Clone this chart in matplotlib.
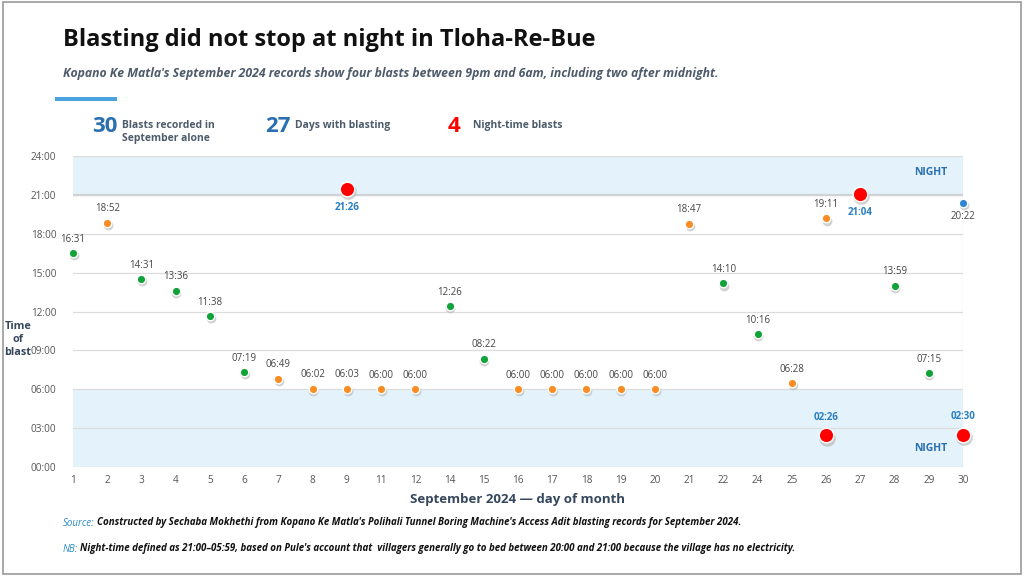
import matplotlib
matplotlib.use("Agg")
from matplotlib import pyplot as plt
from matplotlib.patches import Rectangle
from matplotlib import transforms

plt.rcParams["font.family"] = ["Open Sans", "DejaVu Sans"]

# days with blasting (x categories)
days = [1, 2, 3, 4, 5, 6, 7, 8, 9, 11, 12, 14, 15, 16, 17, 18, 19, 20,
        21, 22, 24, 25, 26, 27, 28, 29, 30]

# each blast: day, time, kind
blast_days = [1, 2, 3, 4, 5, 6, 7, 8, 9, 9, 11, 12, 14, 15, 16, 17, 18, 19,
              20, 21, 22, 24, 25, 26, 26, 27, 28, 29, 30, 30]
blast_times = ["16:31", "18:52", "14:31", "13:36", "11:38", "07:19", "06:49",
               "06:02", "06:03", "21:26", "06:00", "06:00", "12:26", "08:22",
               "06:00", "06:00", "06:00", "06:00", "06:00", "18:47", "14:10",
               "10:16", "06:28", "19:11", "02:26", "21:04", "13:59", "07:15",
               "20:22", "02:30"]
blast_kind = ["day", "edge", "day", "day", "day", "day", "edge", "edge", "edge",
              "night", "edge", "edge", "day", "day", "edge", "edge", "edge",
              "edge", "edge", "edge", "day", "day", "edge", "edge", "night",
              "night", "day", "day", "dusk", "night"]

stats_values = ["30", "27", "4"]
stats_labels = ["Blasts recorded in\nSeptember alone", "Days with blasting",
                "Night-time blasts"]

KIND_COLOR = {"day": "#12a23a", "edge": "#f98d25", "dusk": "#2f86d2",
              "night": "#ff0000"}
SLATE = "#34475c"
BLUE = "#2a6fb0"


def to_hours(t):
    h, m = t.split(":")
    return int(h) + int(m) / 60


fig = plt.figure(figsize=(10.24, 5.76), dpi=100)
fig.patch.set_facecolor("white")
fig.add_artist(Rectangle((0.003, 0.003), 0.994, 0.994, transform=fig.transFigure,
                         fill=False, edgecolor="#9a9a9a", lw=1.2))

ax = fig.add_axes([73 / 1024, 1 - 467 / 576, 890 / 1024, 311 / 576])
ax.set_xlim(0, len(days) - 1)
ax.set_ylim(0, 24)

# night bands
ax.axhspan(21, 24, color="#e4f2fc", zorder=0, lw=0)
ax.axhspan(0, 6, color="#e4f2fc", zorder=0, lw=0)
for y in range(0, 25, 3):
    ax.axhline(y, color="#dcdcdc", lw=0.9, zorder=1)
ax.axhline(21, color="#cfd3d6", lw=1.6, zorder=1)
ax.axvline(len(days) - 1, color="#dcdcdc", lw=0.9, zorder=1)

for s in ax.spines.values():
    s.set_visible(False)

ax.set_yticks(range(0, 25, 3))
ax.set_yticklabels([f"{h:02d}:00" for h in range(0, 25, 3)])
ax.set_xticks(range(len(days)))
ax.set_xticklabels([str(d) for d in days])
ax.tick_params(length=0, labelsize=7.2, colors="#555555")
ax.tick_params(axis="y", pad=12)
ax.tick_params(axis="x", pad=6)

ax.set_xlabel("September 2024 \u2014 day of month", fontsize=9.5, fontweight="bold",
              color=SLATE, labelpad=5)
ax.text(-55 / 890, 0.41, "Time\nof\nblast", transform=ax.transAxes, ha="center",
        va="center", fontsize=7.8, fontweight="bold", color=SLATE, linespacing=1.25)

shadow = transforms.offset_copy(ax.transData, fig=fig, x=0.5, y=-1.6, units="points")

for d, t, k in zip(blast_days, blast_times, blast_kind):
    x = days.index(d)
    y = to_hours(t)
    big = k == "night"
    size = 110 if big else 38
    ax.scatter(x, y, s=size * 1.3, color="#bdbdbd", transform=shadow, zorder=3,
               lw=0, clip_on=False, alpha=0.7)
    ax.scatter(x, y, s=size, color=KIND_COLOR[k], edgecolor="white", lw=1.0,
               zorder=4, clip_on=False)
    if big:
        above = y < 12
        ax.annotate(t, (x, y), textcoords="offset points",
                    xytext=(0, 9 if above else -9), ha="center",
                    va="bottom" if above else "top", fontsize=7,
                    fontweight="bold", color="#2a7fc1", zorder=5)
    elif k == "dusk":
        ax.annotate(t, (x, y), textcoords="offset points", xytext=(0, -6),
                    ha="center", va="top", fontsize=7, color="#444444", zorder=5)
    else:
        ax.annotate(t, (x, y), textcoords="offset points", xytext=(0, 6),
                    ha="center", va="bottom", fontsize=7, color="#444444", zorder=5)

ax.text(0.983, 22.75, "NIGHT", transform=ax.get_yaxis_transform(), ha="right",
        va="center", fontsize=7.5, fontweight="bold", color=BLUE)
ax.text(0.983, 1.45, "NIGHT", transform=ax.get_yaxis_transform(), ha="right",
        va="center", fontsize=7.5, fontweight="bold", color=BLUE)

# header
fig.text(63 / 1024, 1 - 40 / 576, "Blasting did not stop at night in Tloha-Re-Bue",
         fontsize=17, fontweight="bold", color="#111111", va="center")
fig.text(63 / 1024, 1 - 73 / 576,
         "Kopano Ke Matla's September 2024 records show four blasts between 9pm "
         "and 6am, including two after midnight.",
         fontsize=8.85, fontweight="bold", style="italic", color="#4d5b6b",
         va="center")
fig.add_artist(Rectangle((55 / 1024, 1 - 101 / 576), 62 / 1024, 4 / 576,
                         transform=fig.transFigure, color="#4aa3df", lw=0))

stat_x = [92, 265, 448]
stat_colors = [BLUE, BLUE, "#ff0000"]
for sx, val, lab, c in zip(stat_x, stats_values, stats_labels, stat_colors):
    fig.text(sx / 1024, 1 - 127 / 576, val, fontsize=16, fontweight="bold",
             color=c, va="center")
    fig.text((sx + 30 if len(val) > 1 else sx + 25) / 1024, 1 - 120 / 576, lab,
             fontsize=7.5, fontweight="bold", color="#4d5b6b", va="top",
             linespacing=1.25)

# footer
fig.text(63 / 1024, 1 - 523 / 576, "Source:", fontsize=7, style="italic",
         color="#2b8cc4", va="center")
fig.text(97 / 1024, 1 - 523 / 576,
         "Constructed by Sechaba Mokhethi from Kopano Ke Matla's Polihali Tunnel "
         "Boring Machine's Access Adit blasting records for September 2024.",
         fontsize=7, style="italic", fontweight="bold", color="#111111", va="center")
fig.text(63 / 1024, 1 - 549 / 576, "NB:", fontsize=7, style="italic",
         color="#2b8cc4", va="center")
fig.text(80 / 1024, 1 - 549 / 576,
         "Night-time defined as 21:00\u201305:59, based on Pule's account that  "
         "villagers generally go to bed between 20:00 and 21:00 because the village "
         "has no electricity.",
         fontsize=7, style="italic", fontweight="bold", color="#111111",
         va="center")

fig.savefig("out.png", dpi=100)
